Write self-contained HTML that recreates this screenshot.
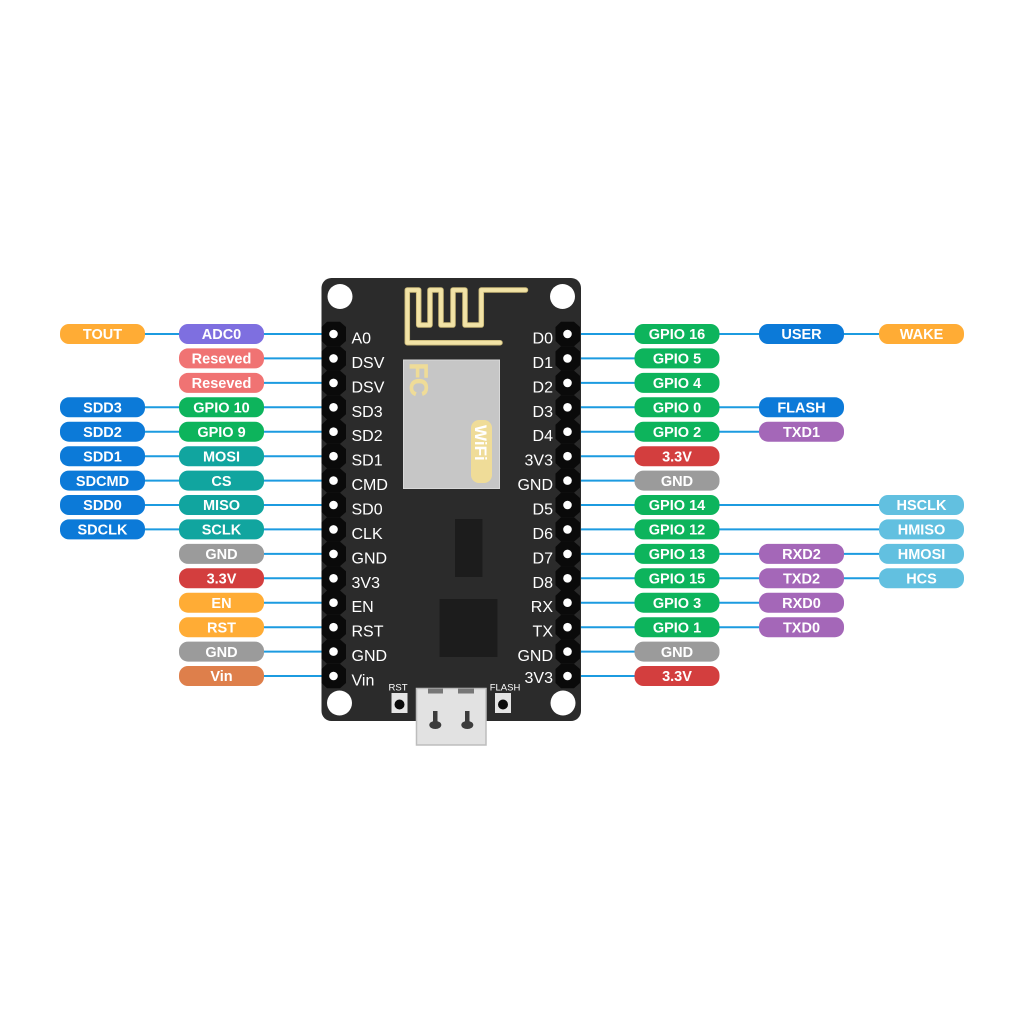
<!DOCTYPE html>
<html><head><meta charset="utf-8"><style>
html,body{margin:0;padding:0;background:#fff;}
svg{display:block;}
.pt{font-family:"Liberation Sans",sans-serif;font-weight:bold;font-size:14.5px;fill:#fff;text-anchor:middle;}
.lb{font-family:"Liberation Sans",sans-serif;font-size:16px;fill:#fff;}
</style></head><body>
<svg width="1024" height="1024" viewBox="0 0 1024 1024" xmlns="http://www.w3.org/2000/svg">
<rect width="1024" height="1024" fill="#fff"/>
<g stroke="#1c9be0" stroke-width="2">
<line x1="145" y1="334" x2="179" y2="334"/>
<line x1="145" y1="407.3" x2="179" y2="407.3"/>
<line x1="145" y1="431.7" x2="179" y2="431.7"/>
<line x1="145" y1="456.2" x2="179" y2="456.2"/>
<line x1="145" y1="480.6" x2="179" y2="480.6"/>
<line x1="145" y1="505" x2="179" y2="505"/>
<line x1="145" y1="529.4" x2="179" y2="529.4"/>
<line x1="262" y1="334" x2="330" y2="334"/>
<line x1="262" y1="358.4" x2="330" y2="358.4"/>
<line x1="262" y1="382.9" x2="330" y2="382.9"/>
<line x1="262" y1="407.3" x2="330" y2="407.3"/>
<line x1="262" y1="431.7" x2="330" y2="431.7"/>
<line x1="262" y1="456.2" x2="330" y2="456.2"/>
<line x1="262" y1="480.6" x2="330" y2="480.6"/>
<line x1="262" y1="505" x2="330" y2="505"/>
<line x1="262" y1="529.4" x2="330" y2="529.4"/>
<line x1="262" y1="553.9" x2="330" y2="553.9"/>
<line x1="262" y1="578.3" x2="330" y2="578.3"/>
<line x1="262" y1="602.7" x2="330" y2="602.7"/>
<line x1="262" y1="627.2" x2="330" y2="627.2"/>
<line x1="262" y1="651.6" x2="330" y2="651.6"/>
<line x1="262" y1="676" x2="330" y2="676"/>
<line x1="570" y1="334" x2="636" y2="334"/>
<line x1="570" y1="358.4" x2="636" y2="358.4"/>
<line x1="570" y1="382.9" x2="636" y2="382.9"/>
<line x1="570" y1="407.3" x2="636" y2="407.3"/>
<line x1="570" y1="431.7" x2="636" y2="431.7"/>
<line x1="570" y1="456.2" x2="636" y2="456.2"/>
<line x1="570" y1="480.6" x2="636" y2="480.6"/>
<line x1="570" y1="505" x2="636" y2="505"/>
<line x1="570" y1="529.4" x2="636" y2="529.4"/>
<line x1="570" y1="553.9" x2="636" y2="553.9"/>
<line x1="570" y1="578.3" x2="636" y2="578.3"/>
<line x1="570" y1="602.7" x2="636" y2="602.7"/>
<line x1="570" y1="627.2" x2="636" y2="627.2"/>
<line x1="570" y1="651.6" x2="636" y2="651.6"/>
<line x1="570" y1="676" x2="636" y2="676"/>
<line x1="718" y1="334" x2="880" y2="334"/>
<line x1="718" y1="407.3" x2="760" y2="407.3"/>
<line x1="718" y1="431.7" x2="760" y2="431.7"/>
<line x1="718" y1="505" x2="880" y2="505"/>
<line x1="718" y1="529.4" x2="880" y2="529.4"/>
<line x1="718" y1="553.9" x2="880" y2="553.9"/>
<line x1="718" y1="578.3" x2="880" y2="578.3"/>
<line x1="718" y1="602.7" x2="760" y2="602.7"/>
<line x1="718" y1="627.2" x2="760" y2="627.2"/>
</g>

<rect x="321.5" y="278" width="259.5" height="443" rx="10" fill="#2b2b2b"/>
<circle cx="340" cy="296.5" r="12.5" fill="#fff"/>
<circle cx="562.5" cy="296.5" r="12.5" fill="#fff"/>
<circle cx="339.5" cy="703" r="12.5" fill="#fff"/>
<circle cx="563" cy="703" r="12.5" fill="#fff"/>

<path d="M525.5 290 H481.3 V325 H465 V290 H453 V325 H441 V290 H430 V325 H418.7 V290 H407.3 V342.7 H500" fill="none" stroke="#c9b877" stroke-width="5.5" stroke-linecap="round" stroke-linejoin="round"/>
<path d="M525.5 290 H481.3 V325 H465 V290 H453 V325 H441 V290 H430 V325 H418.7 V290 H407.3 V342.7 H500" fill="none" stroke="#f2e3a6" stroke-width="3.8" stroke-linecap="round" stroke-linejoin="round"/>

<rect x="403.5" y="360" width="96" height="128.5" fill="#c6c6c6" stroke="#d8d8d8" stroke-width="1"/>
<text transform="translate(410,363) rotate(90)" font-family="Liberation Sans,sans-serif" font-weight="bold" font-size="25" fill="#efdc98" stroke="#efdc98" stroke-width="0.8">FC</text>
<rect x="471" y="420" width="21" height="63" rx="8" fill="#efdc98"/>
<text transform="translate(475,425) rotate(90)" font-family="Liberation Sans,sans-serif" font-weight="bold" font-size="17" fill="#fff">WiFi</text>

<rect x="455" y="519" width="27.5" height="58" fill="#1c1c1c"/>
<rect x="439.5" y="599" width="58" height="58" fill="#1c1c1c"/>

<g fill="#0a0a0a">
<g id="colL">
<path d="M321.5 327 L327 321.8 L340 321.8 L346 327 L346 341 L340 346.2 L327 346.2 L321.5 341 Z"/>
<path transform="translate(0,24.43)" d="M321.5 327 L327 321.8 L340 321.8 L346 327 L346 341 L340 346.2 L327 346.2 L321.5 341 Z"/>
<path transform="translate(0,48.86)" d="M321.5 327 L327 321.8 L340 321.8 L346 327 L346 341 L340 346.2 L327 346.2 L321.5 341 Z"/>
<path transform="translate(0,73.29)" d="M321.5 327 L327 321.8 L340 321.8 L346 327 L346 341 L340 346.2 L327 346.2 L321.5 341 Z"/>
<path transform="translate(0,97.72)" d="M321.5 327 L327 321.8 L340 321.8 L346 327 L346 341 L340 346.2 L327 346.2 L321.5 341 Z"/>
<path transform="translate(0,122.15)" d="M321.5 327 L327 321.8 L340 321.8 L346 327 L346 341 L340 346.2 L327 346.2 L321.5 341 Z"/>
<path transform="translate(0,146.58)" d="M321.5 327 L327 321.8 L340 321.8 L346 327 L346 341 L340 346.2 L327 346.2 L321.5 341 Z"/>
<path transform="translate(0,171.01)" d="M321.5 327 L327 321.8 L340 321.8 L346 327 L346 341 L340 346.2 L327 346.2 L321.5 341 Z"/>
<path transform="translate(0,195.44)" d="M321.5 327 L327 321.8 L340 321.8 L346 327 L346 341 L340 346.2 L327 346.2 L321.5 341 Z"/>
<path transform="translate(0,219.87)" d="M321.5 327 L327 321.8 L340 321.8 L346 327 L346 341 L340 346.2 L327 346.2 L321.5 341 Z"/>
<path transform="translate(0,244.3)" d="M321.5 327 L327 321.8 L340 321.8 L346 327 L346 341 L340 346.2 L327 346.2 L321.5 341 Z"/>
<path transform="translate(0,268.73)" d="M321.5 327 L327 321.8 L340 321.8 L346 327 L346 341 L340 346.2 L327 346.2 L321.5 341 Z"/>
<path transform="translate(0,293.16)" d="M321.5 327 L327 321.8 L340 321.8 L346 327 L346 341 L340 346.2 L327 346.2 L321.5 341 Z"/>
<path transform="translate(0,317.59)" d="M321.5 327 L327 321.8 L340 321.8 L346 327 L346 341 L340 346.2 L327 346.2 L321.5 341 Z"/>
<path transform="translate(0,342.02)" d="M321.5 327 L327 321.8 L340 321.8 L346 327 L346 341 L340 346.2 L327 346.2 L321.5 341 Z"/>
</g>
<use href="#colL" transform="translate(234,0)"/>
</g>
<g fill="#fff">
<g id="dotsL">
<circle cx="333.5" cy="334" r="4.3"/><circle cx="333.5" cy="358.4" r="4.3"/><circle cx="333.5" cy="382.9" r="4.3"/><circle cx="333.5" cy="407.3" r="4.3"/><circle cx="333.5" cy="431.7" r="4.3"/><circle cx="333.5" cy="456.2" r="4.3"/><circle cx="333.5" cy="480.6" r="4.3"/><circle cx="333.5" cy="505" r="4.3"/><circle cx="333.5" cy="529.4" r="4.3"/><circle cx="333.5" cy="553.9" r="4.3"/><circle cx="333.5" cy="578.3" r="4.3"/><circle cx="333.5" cy="602.7" r="4.3"/><circle cx="333.5" cy="627.2" r="4.3"/><circle cx="333.5" cy="651.6" r="4.3"/><circle cx="333.5" cy="676" r="4.3"/>
</g>
<use href="#dotsL" transform="translate(234,0)"/>
</g>

<g class="lb">
<text x="351.5" y="343.5">A0</text>
<text x="351.5" y="367.9">DSV</text>
<text x="351.5" y="392.4">DSV</text>
<text x="351.5" y="416.8">SD3</text>
<text x="351.5" y="441.2">SD2</text>
<text x="351.5" y="465.7">SD1</text>
<text x="351.5" y="490.1">CMD</text>
<text x="351.5" y="514.5">SD0</text>
<text x="351.5" y="538.9">CLK</text>
<text x="351.5" y="563.4">GND</text>
<text x="351.5" y="587.8">3V3</text>
<text x="351.5" y="612.2">EN</text>
<text x="351.5" y="636.7">RST</text>
<text x="351.5" y="661.1">GND</text>
<text x="351.5" y="685.5">Vin</text>
</g>
<g class="lb" text-anchor="end">
<text x="553" y="343.5">D0</text>
<text x="553" y="367.9">D1</text>
<text x="553" y="392.4">D2</text>
<text x="553" y="416.8">D3</text>
<text x="553" y="441.2">D4</text>
<text x="553" y="465.7">3V3</text>
<text x="553" y="490.1">GND</text>
<text x="553" y="514.5">D5</text>
<text x="553" y="538.9">D6</text>
<text x="553" y="563.4">D7</text>
<text x="553" y="587.8">D8</text>
<text x="553" y="612.2">RX</text>
<text x="553" y="636.7">TX</text>
<text x="553" y="661.1">GND</text>
<text x="553" y="683">3V3</text>
</g>

<rect x="391.5" y="693" width="16" height="20" fill="#e4e4e4"/>
<circle cx="399.5" cy="704.5" r="5" fill="#0a0a0a"/>
<rect x="495" y="693" width="16" height="20" fill="#e4e4e4"/>
<circle cx="503" cy="704.5" r="5" fill="#0a0a0a"/>
<text x="398" y="690.5" font-family="Liberation Sans,sans-serif" font-size="9.5" fill="#fff" text-anchor="middle">RST</text>
<text x="505" y="690.5" font-family="Liberation Sans,sans-serif" font-size="9.5" fill="#fff" text-anchor="middle">FLASH</text>
<rect x="416.5" y="688.5" width="69.5" height="56.5" fill="#e2e2e2" stroke="#bdbdbd" stroke-width="1.5"/>
<rect x="428" y="688.5" width="15" height="5" fill="#777"/>
<rect x="458" y="688.5" width="16" height="5" fill="#777"/>
<rect x="433" y="711" width="4.5" height="14" fill="#3c3c3c"/>
<ellipse cx="435.3" cy="725" rx="6" ry="4" fill="#3c3c3c"/>
<rect x="465" y="711" width="4.5" height="14" fill="#3c3c3c"/>
<ellipse cx="467.3" cy="725" rx="6" ry="4" fill="#3c3c3c"/>

<g>
<rect x="60" y="324" width="85" height="20" rx="9" fill="#ffac35"/>
<rect x="179" y="324" width="85" height="20" rx="9" fill="#7e6fe0"/>
<rect x="179" y="348.4" width="85" height="20" rx="9" fill="#f07373"/>
<rect x="179" y="372.9" width="85" height="20" rx="9" fill="#f07373"/>
<rect x="60" y="397.3" width="85" height="20" rx="9" fill="#0c7ad8"/>
<rect x="179" y="397.3" width="85" height="20" rx="9" fill="#0db45c"/>
<rect x="60" y="421.7" width="85" height="20" rx="9" fill="#0c7ad8"/>
<rect x="179" y="421.7" width="85" height="20" rx="9" fill="#0db45c"/>
<rect x="60" y="446.2" width="85" height="20" rx="9" fill="#0c7ad8"/>
<rect x="179" y="446.2" width="85" height="20" rx="9" fill="#11a59f"/>
<rect x="60" y="470.6" width="85" height="20" rx="9" fill="#0c7ad8"/>
<rect x="179" y="470.6" width="85" height="20" rx="9" fill="#11a59f"/>
<rect x="60" y="495" width="85" height="20" rx="9" fill="#0c7ad8"/>
<rect x="179" y="495" width="85" height="20" rx="9" fill="#11a59f"/>
<rect x="60" y="519.4" width="85" height="20" rx="9" fill="#0c7ad8"/>
<rect x="179" y="519.4" width="85" height="20" rx="9" fill="#11a59f"/>
<rect x="179" y="543.9" width="85" height="20" rx="9" fill="#9b9b9b"/>
<rect x="179" y="568.3" width="85" height="20" rx="9" fill="#d33e3e"/>
<rect x="179" y="592.7" width="85" height="20" rx="9" fill="#ffac35"/>
<rect x="179" y="617.2" width="85" height="20" rx="9" fill="#ffac35"/>
<rect x="179" y="641.6" width="85" height="20" rx="9" fill="#9b9b9b"/>
<rect x="179" y="666" width="85" height="20" rx="9" fill="#de7f4b"/>
</g>
<g class="pt">
<text x="102.5" y="339.2">TOUT</text>
<text x="221.5" y="339.2">ADC0</text>
<text x="221.5" y="363.6">Reseved</text>
<text x="221.5" y="388.1">Reseved</text>
<text x="102.5" y="412.5">SDD3</text>
<text x="221.5" y="412.5">GPIO 10</text>
<text x="102.5" y="436.9">SDD2</text>
<text x="221.5" y="436.9">GPIO 9</text>
<text x="102.5" y="461.4">SDD1</text>
<text x="221.5" y="461.4">MOSI</text>
<text x="102.5" y="485.8">SDCMD</text>
<text x="221.5" y="485.8">CS</text>
<text x="102.5" y="510.2">SDD0</text>
<text x="221.5" y="510.2">MISO</text>
<text x="102.5" y="534.6">SDCLK</text>
<text x="221.5" y="534.6">SCLK</text>
<text x="221.5" y="559.1">GND</text>
<text x="221.5" y="583.5">3.3V</text>
<text x="221.5" y="607.9">EN</text>
<text x="221.5" y="632.4">RST</text>
<text x="221.5" y="656.8">GND</text>
<text x="221.5" y="681.2">Vin</text>
</g>

<g>
<rect x="634.5" y="324" width="85" height="20" rx="9" fill="#0db45c"/>
<rect x="759" y="324" width="85" height="20" rx="9" fill="#0c7ad8"/>
<rect x="879" y="324" width="85" height="20" rx="9" fill="#ffac35"/>
<rect x="634.5" y="348.4" width="85" height="20" rx="9" fill="#0db45c"/>
<rect x="634.5" y="372.9" width="85" height="20" rx="9" fill="#0db45c"/>
<rect x="634.5" y="397.3" width="85" height="20" rx="9" fill="#0db45c"/>
<rect x="759" y="397.3" width="85" height="20" rx="9" fill="#0c7ad8"/>
<rect x="634.5" y="421.7" width="85" height="20" rx="9" fill="#0db45c"/>
<rect x="759" y="421.7" width="85" height="20" rx="9" fill="#a467b8"/>
<rect x="634.5" y="446.2" width="85" height="20" rx="9" fill="#d33e3e"/>
<rect x="634.5" y="470.6" width="85" height="20" rx="9" fill="#9b9b9b"/>
<rect x="634.5" y="495" width="85" height="20" rx="9" fill="#0db45c"/>
<rect x="879" y="495" width="85" height="20" rx="9" fill="#62c0e0"/>
<rect x="634.5" y="519.4" width="85" height="20" rx="9" fill="#0db45c"/>
<rect x="879" y="519.4" width="85" height="20" rx="9" fill="#62c0e0"/>
<rect x="634.5" y="543.9" width="85" height="20" rx="9" fill="#0db45c"/>
<rect x="759" y="543.9" width="85" height="20" rx="9" fill="#a467b8"/>
<rect x="879" y="543.9" width="85" height="20" rx="9" fill="#62c0e0"/>
<rect x="634.5" y="568.3" width="85" height="20" rx="9" fill="#0db45c"/>
<rect x="759" y="568.3" width="85" height="20" rx="9" fill="#a467b8"/>
<rect x="879" y="568.3" width="85" height="20" rx="9" fill="#62c0e0"/>
<rect x="634.5" y="592.7" width="85" height="20" rx="9" fill="#0db45c"/>
<rect x="759" y="592.7" width="85" height="20" rx="9" fill="#a467b8"/>
<rect x="634.5" y="617.2" width="85" height="20" rx="9" fill="#0db45c"/>
<rect x="759" y="617.2" width="85" height="20" rx="9" fill="#a467b8"/>
<rect x="634.5" y="641.6" width="85" height="20" rx="9" fill="#9b9b9b"/>
<rect x="634.5" y="666" width="85" height="20" rx="9" fill="#d33e3e"/>
</g>
<g class="pt">
<text x="677" y="339.2">GPIO 16</text>
<text x="801.5" y="339.2">USER</text>
<text x="921.5" y="339.2">WAKE</text>
<text x="677" y="363.6">GPIO 5</text>
<text x="677" y="388.1">GPIO 4</text>
<text x="677" y="412.5">GPIO 0</text>
<text x="801.5" y="412.5">FLASH</text>
<text x="677" y="436.9">GPIO 2</text>
<text x="801.5" y="436.9">TXD1</text>
<text x="677" y="461.4">3.3V</text>
<text x="677" y="485.8">GND</text>
<text x="677" y="510.2">GPIO 14</text>
<text x="921.5" y="510.2">HSCLK</text>
<text x="677" y="534.6">GPIO 12</text>
<text x="921.5" y="534.6">HMISO</text>
<text x="677" y="559.1">GPIO 13</text>
<text x="801.5" y="559.1">RXD2</text>
<text x="921.5" y="559.1">HMOSI</text>
<text x="677" y="583.5">GPIO 15</text>
<text x="801.5" y="583.5">TXD2</text>
<text x="921.5" y="583.5">HCS</text>
<text x="677" y="607.9">GPIO 3</text>
<text x="801.5" y="607.9">RXD0</text>
<text x="677" y="632.4">GPIO 1</text>
<text x="801.5" y="632.4">TXD0</text>
<text x="677" y="656.8">GND</text>
<text x="677" y="681.2">3.3V</text>
</g>
</svg>
</body></html>
